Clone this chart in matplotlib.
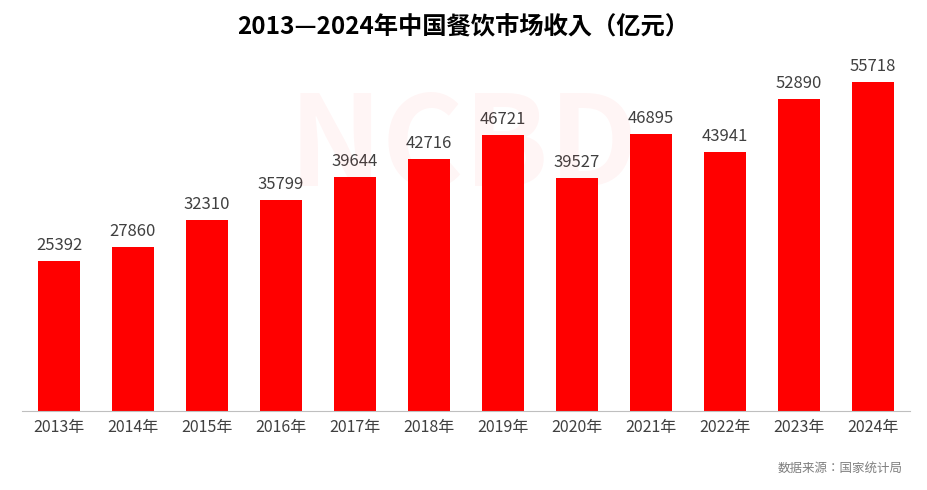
import matplotlib
matplotlib.use("Agg")
import matplotlib.pyplot as plt
from matplotlib import font_manager as fm

for f in fm.findSystemFonts():
    if "CJK" in f:
        try:
            fm.fontManager.addfont(f)
        except Exception:
            pass
names = sorted({f.name for f in fm.fontManager.ttflist if "CJK" in f.name})
cjk = next((n for n in names if "SC" in n), names[0] if names else "DejaVu Sans")
plt.rcParams["font.family"] = [cjk, "DejaVu Sans"]

years = ["2013年","2014年","2015年","2016年","2017年","2018年","2019年","2020年","2021年","2022年","2023年","2024年"]
values = [25392, 27860, 32310, 35799, 39644, 42716, 46721, 39527, 46895, 43941, 52890, 55718]

fig = plt.figure(figsize=(9.27, 4.90), dpi=100)
ax = fig.add_axes([22/927, 1-411/490, 888/927, 354/490])
x = range(len(years))
ax.bar(x, values, width=0.57, color="#FF0000", zorder=2)
for i, v in zip(x, values):
    ax.text(i, v + 1200, str(v), ha="center", va="bottom", fontsize=12, color="#404040")
ax.set_xlim(-0.5, 11.5)
ax.set_ylim(0, 60000)
ax.set_xticks(list(x))
ax.set_xticklabels(years, fontsize=11.5, color="#404040")
ax.tick_params(axis="x", length=0, pad=6)
ax.set_yticks([])
for s in ["top", "right", "left"]:
    ax.spines[s].set_visible(False)
ax.spines["bottom"].set_color("#BFBFBF")
fig.text(0.5, 1-27/490, "2013—2024年中国餐饮市场收入（亿元）", ha="center", va="center",
         fontsize=17.5, fontweight="bold", color="black")
fig.text(0.5, 1-150/490, "NCBD", ha="center", va="center", fontsize=90, fontweight="bold",
         color="#FF0000", alpha=0.04, zorder=0)
fig.text(903/927, 1-468/490, "数据来源：国家统计局", ha="right", va="center", fontsize=9, color="#7F7F7F")
fig.savefig("out.png", dpi=100)
